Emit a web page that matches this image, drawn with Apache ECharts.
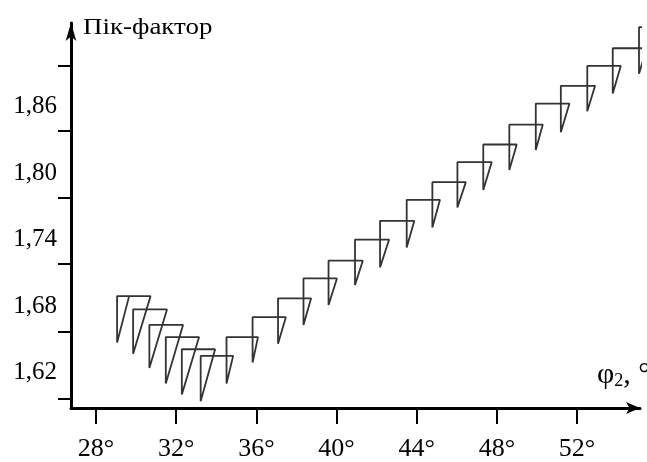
<!DOCTYPE html>
<html>
<head>
<meta charset="utf-8">
<script src="https://cdn.jsdelivr.net/npm/echarts@6/dist/echarts.min.js"></script>
<style>
  html, body { margin: 0; padding: 0; background: #fff; }
  #chart { width: 647px; height: 462px; }
</style>
</head>
<body>
<div id="chart"></div>
<script>
// φ2 (град) — ліва вертикаль кожного прапорця, права межа горизонталі
var phiStart = 29.65;
var phiL = [29.05, 29.85, 30.66, 31.48, 32.28, 33.22, 34.51, 35.81, 37.08, 38.35, 39.60, 40.92,
            42.17, 43.50, 44.78, 46.03, 47.32, 48.62, 49.94, 51.19, 52.51, 53.78, 55.09];
var phiR = [30.72, 31.54, 32.34, 33.14, 33.94, 34.84, 36.08, 37.47, 38.73, 40.02, 41.31, 42.62,
            43.88, 45.16, 46.45, 47.74, 48.99, 50.29, 51.62, 52.90, 54.18, 55.48, 56.79];
// пік-фактор: верх і низ кожного прапорця
var pfTop = [1.689, 1.677, 1.663, 1.652, 1.641, 1.635, 1.652, 1.670, 1.687, 1.705, 1.721, 1.740,
             1.757, 1.776, 1.792, 1.810, 1.826, 1.844, 1.863, 1.879, 1.897, 1.913, 1.932];
var pfLow = [1.647, 1.637, 1.624, 1.610, 1.600, 1.594, 1.610, 1.629, 1.646, 1.663, 1.681, 1.699,
             1.715, 1.733, 1.751, 1.769, 1.785, 1.803, 1.821, 1.837, 1.856, 1.872, 1.890];

// підписи і штрихи осей
var xTicks = [28, 32, 36, 40, 44, 48, 52];
var yLabels = [1.62, 1.68, 1.74, 1.80, 1.86];
var yTicks = [1.596, 1.657, 1.718, 1.778, 1.838, 1.897];

var font = '"Liberation Serif", "Times New Roman", serif';

// ламана: низ -> верх -> права межа -> низ наступного
var pts = [[phiStart, pfTop[0]]];
for (var i = 0; i < phiL.length; i++) {
  pts.push([phiL[i], pfLow[i]]);
  pts.push([phiL[i], pfTop[i]]);
  pts.push([phiR[i], pfTop[i]]);
}

var chart = echarts.init(document.getElementById('chart'));
chart.setOption({
  animation: false,
  backgroundColor: '#fff',
  grid: { left: 71, right: 7, top: 23, bottom: 49 },
  xAxis: {
    type: 'value',
    min: 26.75,
    max: 55.14,
    axisLine: {
      symbol: ['none', 'arrow'],
      symbolSize: [9, 14],
      lineStyle: { color: '#000', width: 3 }
    },
    axisTick: {
      customValues: xTicks,
      length: 16,
      lineStyle: { color: '#000', width: 2 }
    },
    axisLabel: {
      customValues: xTicks,
      formatter: function (v) { return v + '°'; },
      margin: 28,
      color: '#000',
      fontSize: 26,
      fontFamily: font
    },
    splitLine: { show: false }
  },
  yAxis: {
    type: 'value',
    min: 1.5879,
    max: 1.9358,
    axisLine: {
      show: true,
      symbol: ['none', 'arrow'],
      symbolSize: [8, 18],
      lineStyle: { color: '#000', width: 3 }
    },
    axisTick: {
      show: true,
      customValues: yTicks,
      length: 13,
      lineStyle: { color: '#000', width: 2 }
    },
    axisLabel: {
      customValues: yLabels,
      formatter: function (v) { return v.toFixed(2).replace('.', ','); },
      margin: 14,
      color: '#000',
      fontSize: 25,
      fontFamily: font
    },
    splitLine: { show: false }
  },
  graphic: [
    {
      type: 'text',
      x: 83, y: 28,
      scaleX: 1.17,
      style: {
        text: 'Пік-фактор',
        font: '23px ' + font,
        fill: '#000',
        textVerticalAlign: 'middle'
      }
    },
    {
      type: 'text',
      x: 597, y: 358,
      style: {
        text: '{a|φ}{b|2}{a|, °}',
        fill: '#000',
        rich: {
          a: { fontSize: 30, fontFamily: font, color: '#000', verticalAlign: 'bottom' },
          b: { fontSize: 18, fontFamily: font, color: '#000', padding: [14, 0, 0, 0] }
        }
      }
    }
  ],
  series: [
    {
      type: 'line',
      data: pts,
      showSymbol: false,
      clip: false,
      lineStyle: { color: '#333', width: 1.8 }
    }
  ]
});
</script>
</body>
</html>
